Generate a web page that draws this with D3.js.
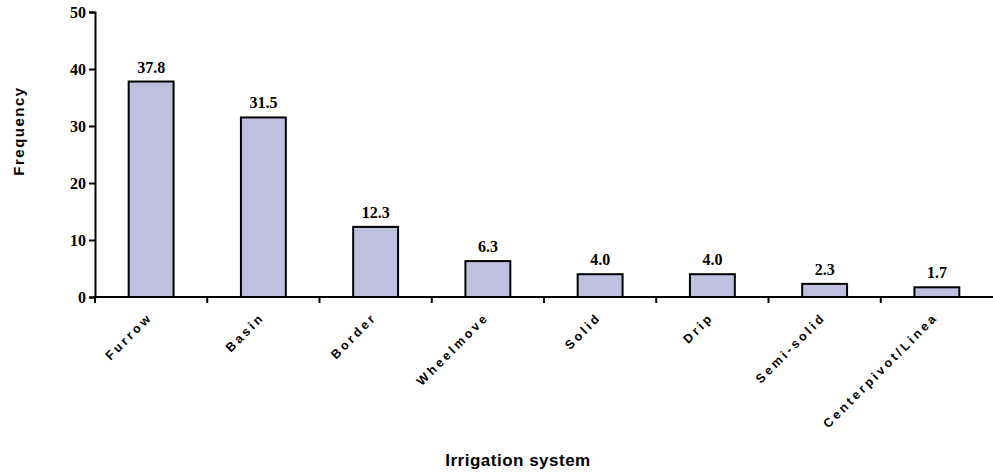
<!DOCTYPE html>
<html>
<head>
<meta charset="utf-8">
<script src="https://cdn.jsdelivr.net/npm/d3@7"></script>
<style>
  html, body { margin: 0; padding: 0; background: #fff; }
  svg { display: block; }
</style>
</head>
<body>
<svg id="chart" width="993" height="472"></svg>
<script>
// Share of irrigation systems (frequency, %)
const categories = ["Furrow", "Basin", "Border", "Wheelmove", "Solid", "Drip", "Semi-solid", "Centerpivot/Linea"];
const frequency = [37.8, 31.5, 12.3, 6.3, 4.0, 4.0, 2.3, 1.7];
const yTicks = [0, 10, 20, 30, 40, 50];

const svg = d3.select("#chart");
const margin = { left: 95, top: 12 };
const W = 993;
const plotBottom = 297;

const x = d3.scaleBand()
  .domain(categories)
  .range([margin.left, W])
  .paddingInner(0).paddingOuter(0);

const y = d3.scaleLinear()
  .domain([0, 50])
  .range([plotBottom, margin.top]);

const serif = "'Liberation Serif', 'Times New Roman', serif";
const sans = "'Liberation Sans', Arial, sans-serif";

// bars
svg.append("g").selectAll("rect")
  .data(frequency)
  .join("rect")
  .attr("x", (d, i) => x(categories[i]) + x.bandwidth() * 0.3)
  .attr("width", x.bandwidth() * 0.4)
  .attr("y", d => y(d))
  .attr("height", d => y(0) - y(d))
  .attr("fill", "#BFBFDF")
  .attr("stroke", "#000")
  .attr("stroke-width", 2);

// value labels
svg.append("g").selectAll("text")
  .data(frequency)
  .join("text")
  .attr("x", (d, i) => x(categories[i]) + x.bandwidth() / 2)
  .attr("y", d => y(d) - 9)
  .attr("text-anchor", "middle")
  .attr("font-family", serif)
  .attr("font-weight", "bold")
  .attr("font-size", 16)
  .text(d => d.toFixed(1));

// y axis
const yAxis = svg.append("g")
  .attr("transform", `translate(${margin.left},0)`)
  .call(d3.axisLeft(y).tickValues(yTicks).tickSize(6).tickPadding(3).tickFormat(d3.format("d")));
yAxis.select(".domain").attr("stroke", "#000").attr("stroke-width", 2);
yAxis.selectAll(".tick line").attr("stroke", "#000").attr("stroke-width", 2);
yAxis.selectAll(".tick text")
  .attr("font-family", serif)
  .attr("font-weight", "bold")
  .attr("font-size", 16)
  .attr("fill", "#000");

// x axis: line with ticks at category boundaries
const xAxis = svg.append("g");
xAxis.append("line")
  .attr("x1", margin.left - 1).attr("x2", W)
  .attr("y1", plotBottom).attr("y2", plotBottom)
  .attr("stroke", "#000").attr("stroke-width", 2);
xAxis.selectAll("line.tick")
  .data(categories)
  .join("line")
  .attr("class", "tick")
  .attr("x1", d => x(d)).attr("x2", d => x(d))
  .attr("y1", plotBottom).attr("y2", plotBottom + 6)
  .attr("stroke", "#000").attr("stroke-width", 2);

// rotated category labels
xAxis.selectAll("text")
  .data(categories)
  .join("text")
  .attr("transform", d => `translate(${x(d) + x.bandwidth() / 2 + 2},${plotBottom + 21}) rotate(-45)`)
  .attr("text-anchor", "end")
  .attr("font-family", sans)
  .attr("font-weight", "bold")
  .attr("font-size", 12.5)
  .attr("letter-spacing", 3)
  .text(d => d);

// axis titles
svg.append("text")
  .attr("transform", "translate(24,131) rotate(-90)")
  .attr("text-anchor", "middle")
  .attr("font-family", sans)
  .attr("font-weight", "bold")
  .attr("font-size", 15)
  .attr("letter-spacing", 1.5)
  .text("Frequency");

svg.append("text")
  .attr("x", 518)
  .attr("y", 466)
  .attr("text-anchor", "middle")
  .attr("font-family", sans)
  .attr("font-weight", "bold")
  .attr("font-size", 17)
  .attr("letter-spacing", 0.5)
  .text("Irrigation system");
</script>
</body>
</html>
